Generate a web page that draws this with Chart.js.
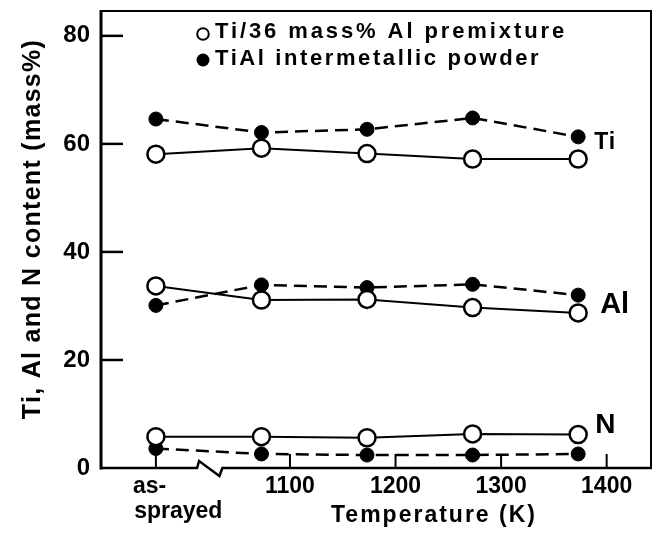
<!DOCTYPE html>
<html>
<head>
<meta charset="utf-8">
<script src="https://cdn.jsdelivr.net/npm/chart.js@4/dist/chart.umd.min.js"></script>
<style>
  html, body { margin: 0; padding: 0; background: #fff; }
  #wrap { width: 662px; height: 542px; }
</style>
</head>
<body>
<div id="wrap"><canvas id="c" width="662" height="542"></canvas></div>
<script>
// ---- data ----
const categories = ['as-sprayed', '1073', '1173', '1273', '1373'];
const temperatures = [973, 1073, 1173, 1273, 1373]; // as-sprayed is placed left of the axis break
const premixTi = [58.1, 59.2, 58.2, 57.2, 57.2];
const premixAl = [33.7, 31.1, 31.2, 29.7, 28.7];
const premixN  = [5.8, 5.8, 5.6, 6.3, 6.2];
const tialTi   = [64.6, 62.1, 62.7, 64.8, 61.3];
const tialAl   = [30.1, 33.9, 33.4, 34.0, 32.0];
const tialN    = [3.6, 2.6, 2.4, 2.4, 2.6];
const xTickValues = [1100, 1200, 1300, 1400];
const yTickValues = [0, 20, 40, 60, 80];
const seriesNames = ['Ti/36 mass% Al premixture', 'TiAl intermetallic powder'];
const elementNames = ['Ti', 'Al', 'N'];
const xTitle = 'Temperature (K)';
const yTitle = 'Ti, Al and N content (mass%)';

const FONT = '"Liberation Sans", Arial, Helvetica, sans-serif';
const asSprayedPos = temperatures[0];

function pts(vals) { return vals.map((v, i) => ({ x: temperatures[i], y: v })); }

const openStyle = {
  borderColor: '#000', borderWidth: 2, pointRadius: 8.5, pointBorderWidth: 2.5,
  pointBackgroundColor: '#fff', pointBorderColor: '#000', pointHoverRadius: 8.5,
  fill: false, tension: 0
};
const filledStyle = {
  borderColor: '#000', borderWidth: 2.5, borderDash: [13, 7], pointRadius: 7,
  pointBorderWidth: 1, pointBackgroundColor: '#000', pointBorderColor: '#000',
  pointHoverRadius: 7, fill: false, tension: 0
};

const datasets = [
  Object.assign({ label: seriesNames[0] + ' Ti', data: pts(premixTi) }, openStyle),
  Object.assign({ label: seriesNames[0] + ' Al', data: pts(premixAl) }, openStyle),
  Object.assign({ label: seriesNames[0] + ' N',  data: pts(premixN)  }, openStyle),
  Object.assign({ label: seriesNames[1] + ' Ti', data: pts(tialTi) }, filledStyle),
  Object.assign({ label: seriesNames[1] + ' Al', data: pts(tialAl) }, filledStyle),
  Object.assign({ label: seriesNames[1] + ' N',  data: pts(tialN)  }, filledStyle)
];

const decor = {
  id: 'decor',
  beforeDatasetsDraw(chart) {
    const { ctx, chartArea: a, scales: { x, y } } = chart;
    ctx.save();
    ctx.strokeStyle = '#000';
    ctx.lineCap = 'butt';
    // left axis
    ctx.lineWidth = 3;
    ctx.beginPath(); ctx.moveTo(a.left, a.top - 1); ctx.lineTo(a.left, a.bottom + 1.5); ctx.stroke();
    // top and right frame
    ctx.lineWidth = 2;
    ctx.beginPath(); ctx.moveTo(a.left, a.top); ctx.lineTo(a.right, a.top); ctx.lineTo(a.right, a.bottom); ctx.stroke();
    // bottom axis with break
    const b1 = x.getPixelForValue(1012), b2 = x.getPixelForValue(1036);
    ctx.lineWidth = 2.5;
    ctx.lineJoin = 'miter';
    ctx.beginPath();
    ctx.moveTo(a.left, a.bottom);
    ctx.lineTo(b1, a.bottom);
    ctx.lineTo(b1 + 2, a.bottom - 7);
    ctx.lineTo(b2 - 3, a.bottom + 8);
    ctx.lineTo(b2, a.bottom);
    ctx.lineTo(a.right + 1, a.bottom);
    ctx.stroke();
    // inward y ticks
    ctx.lineWidth = 2.5;
    yTickValues.forEach(v => {
      if (v === 0) return;
      const py = y.getPixelForValue(v);
      ctx.beginPath(); ctx.moveTo(a.left, py); ctx.lineTo(a.left + 22, py); ctx.stroke();
    });
    // inward x ticks
    ctx.lineWidth = 2;
    [asSprayedPos].concat(xTickValues).forEach(v => {
      const px = x.getPixelForValue(v);
      const len = v === asSprayedPos ? 19 : 14;
      ctx.beginPath(); ctx.moveTo(px, a.bottom); ctx.lineTo(px, a.bottom - len); ctx.stroke();
    });
    ctx.restore();
  },
  afterDraw(chart) {
    const { ctx, chartArea: a, scales: { x, y } } = chart;
    ctx.save();
    ctx.fillStyle = '#000';
    ctx.strokeStyle = '#000';
    // legend
    ctx.lineWidth = 2;
    ctx.beginPath(); ctx.arc(203, 34, 5.8, 0, Math.PI * 2); ctx.fillStyle = '#fff'; ctx.fill(); ctx.stroke();
    ctx.fillStyle = '#000';
    ctx.beginPath(); ctx.arc(203, 60, 6.5, 0, Math.PI * 2); ctx.fill();
    ctx.font = 'bold 22px ' + FONT;
    ctx.textAlign = 'left';
    ctx.textBaseline = 'alphabetic';
    ctx.letterSpacing = '2.9px';
    ctx.fillText(seriesNames[0], 215, 38);
    ctx.letterSpacing = '2.6px';
    ctx.fillText(seriesNames[1], 215, 65);
    // element labels next to last points
    const lastX = x.getPixelForValue(temperatures[temperatures.length - 1]);
    ctx.letterSpacing = '1px';
    ctx.font = 'bold 23px ' + FONT;
    ctx.fillText(elementNames[0], lastX + 16, y.getPixelForValue(59.1));
    ctx.letterSpacing = '0px';
    ctx.font = 'bold 29px ' + FONT;
    ctx.fillText(elementNames[1], lastX + 22, y.getPixelForValue(28.7));
    ctx.font = 'bold 28px ' + FONT;
    ctx.fillText(elementNames[2], lastX + 17, y.getPixelForValue(6.4));
    // x title
    ctx.font = 'bold 23px ' + FONT;
    ctx.letterSpacing = '2px';
    ctx.textAlign = 'center';
    ctx.fillText(xTitle, 434, 522);
    // y title
    ctx.font = 'bold 25px ' + FONT;
    ctx.letterSpacing = '1.3px';
    ctx.translate(40, 229);
    ctx.rotate(-Math.PI / 2);
    ctx.fillText(yTitle, 0, 0);
    ctx.restore();
  }
};

new Chart(document.getElementById('c'), {
  type: 'line',
  data: { datasets },
  options: {
    responsive: false,
    animation: false,
    events: [],
    layout: { padding: { top: 8, right: 10, left: 0, bottom: 0 } },
    plugins: { legend: { display: false }, tooltip: { enabled: false }, title: { display: false } },
    scales: {
      x: {
        type: 'linear', min: 921, max: 1442,
        grid: { display: false, drawTicks: false },
        border: { display: false },
        afterBuildTicks: s => { s.ticks = [asSprayedPos].concat(xTickValues).map(v => ({ value: v })); },
        afterFit: s => { s.height = 74; s.paddingLeft = 0; s.paddingRight = 0; },
        ticks: {
          autoSkip: false, maxRotation: 0, minRotation: 0, padding: 6, color: '#000',
          font: { family: FONT, size: 23, weight: 'bold', lineHeight: 1.1 },
          callback: v => v === asSprayedPos ? ['as-  ', '       sprayed'] : String(v)
        }
      },
      y: {
        type: 'linear', min: 0, max: 84.6,
        grid: { display: false, drawTicks: false },
        border: { display: false },
        afterBuildTicks: s => { s.ticks = yTickValues.map(v => ({ value: v })); },
        afterFit: s => { s.width = 101; s.paddingTop = 0; s.paddingBottom = 0; },
        ticks: {
          padding: 11, color: '#000',
          font: { family: FONT, size: 24, weight: 'bold' },
          callback: v => String(v)
        }
      }
    }
  },
  plugins: [decor]
});
</script>
</body>
</html>
